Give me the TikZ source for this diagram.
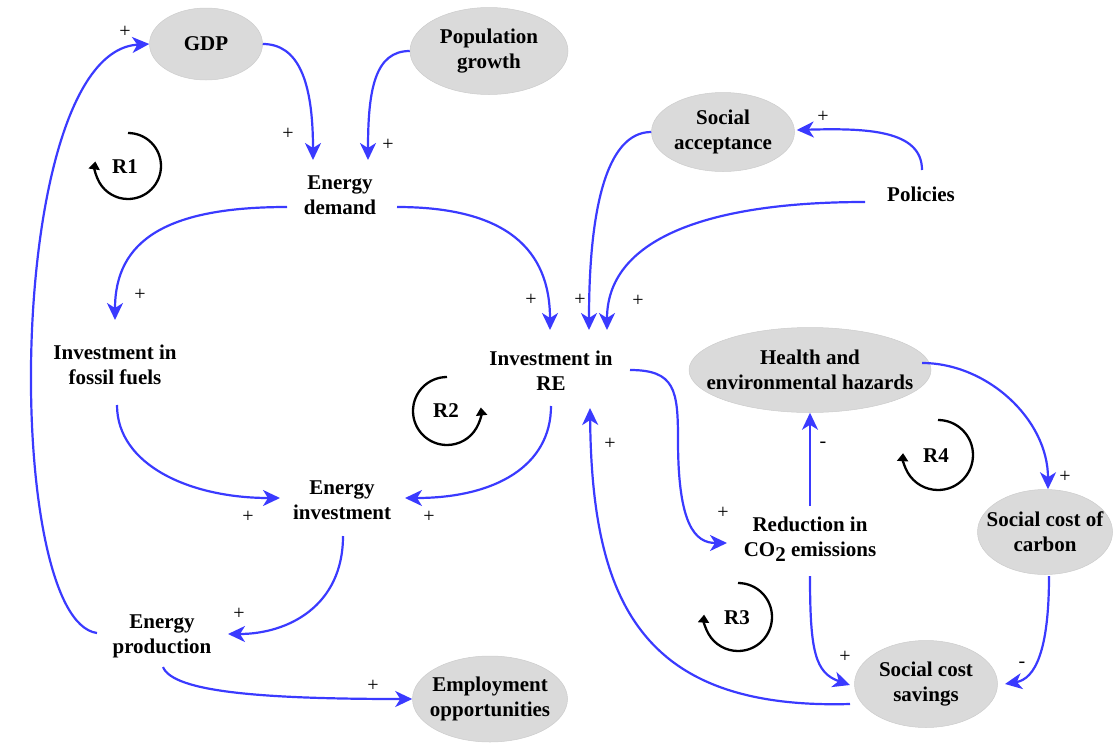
\documentclass[tikz,border=0pt]{standalone}
\usepackage{fontspec}
\setmainfont{Liberation Serif}
\usetikzlibrary{arrows.meta,shapes.geometric}
\definecolor{linkblue}{RGB}{58,58,255}
\definecolor{bubblefill}{RGB}{218,218,218}
\definecolor{bubbleedge}{RGB}{204,204,204}

\begin{document}
\begin{tikzpicture}[x=1pt,y=-1pt,
  bubble/.style={ellipse, fill=bubblefill, draw=bubbleedge, line width=0.5pt, inner sep=0pt},
  txt/.style={font=\fontsize{21}{25}\selectfont\bfseries, align=center, inner sep=0pt},
  sign/.style={font=\fontsize{20}{22}\selectfont, inner sep=0pt},
  link/.style={draw=linkblue, line width=2.2pt, -{Stealth[length=17pt,width=16pt,inset=5pt]}},
  loopmark/.style={draw=black, line width=2.3pt, -{Triangle[length=8pt,width=11pt]}},
  looptag/.style={font=\fontsize{21}{24}\selectfont\bfseries, inner sep=0pt},
]
\useasboundingbox (0,0) rectangle (1114,742);

% shaded variables
\node[bubble, minimum width=113, minimum height=72] (gdp) at (206,44) {};
\node[txt] (gdpt) at (gdp.center) {GDP};
\node[bubble, minimum width=158, minimum height=87] (pop) at (489,51) {};
\node[txt] (popt) at (pop.center) {Population\\growth};
\node[bubble, minimum width=143, minimum height=79] (soc) at (723,132) {};
\node[txt] (soct) at (soc.center) {Social\\acceptance};
\node[bubble, minimum width=242, minimum height=85] (hea) at (810,370) {};
\node[txt] (heat) at (hea.center) {Health and\\environmental hazards};
\node[bubble, minimum width=135, minimum height=85] (scc) at (1045,532) {};
\node[txt] (scct) at (scc.center) {Social cost of\\carbon};
\node[bubble, minimum width=143, minimum height=87] (scs) at (926,684) {};
\node[txt] (scst) at (scs.center) {Social cost\\savings};
\node[bubble, minimum width=155, minimum height=86] (emp) at (490,699) {};
\node[txt] (empt) at (emp.center) {Employment\\opportunities};

% plain variables
\node[txt] (edem) at (340,195) {Energy\\demand};
\node[txt] (iff) at (115,365) {Investment in\\fossil fuels};
\node[txt] (ire) at (551,371) {Investment in\\RE};
\node[txt] (einv) at (342,500) {Energy\\investment};
\node[txt] (eprod) at (162,636) {Energy\\production};
\node[txt] (red) at (810,539) {Reduction in\\CO\raisebox{-5pt}{2} emissions};
\node[txt] (pol) at (921,194) {Policies};

% causal links
\draw[link] (gdp.east) .. controls +(35,0) and +(0,-80) .. ([shift={(-27,-35)}]edem.center);
\draw[link] (pop.west) .. controls +(-35,0) and +(0,-70) .. ([shift={(28,-35)}]edem.center);
\draw[link] ([shift={(-53,12)}]edem.center) .. controls +(-120,0) and +(0,-80) .. ([shift={(0,-45)}]iff.center);
\draw[link] ([shift={(57,12)}]edem.center) .. controls +(110,0) and +(0,-80) .. ([shift={(-1,-41)}]ire.center);
\draw[link] (soc.west) .. controls +(-45,0) and +(0,-120) .. ([shift={(38,-41)}]ire.center);
\draw[link] ([shift={(-56,8)}]pol.center) .. controls +(-160,0) and +(0,-90) .. ([shift={(56,-41)}]ire.center);
\draw[link] ([shift={(1,-24)}]pol.center) .. controls +(0,-40) and +(70,-2) .. ([shift={(2,-2)}]soc.east);
\draw[link] ([shift={(2,40)}]iff.center) .. controls +(0,60) and +(-90,0) .. ([shift={(-62,-2)}]einv.center);
\draw[link] ([shift={(0,35)}]ire.center) .. controls +(0,60) and +(90,0) .. ([shift={(63,-2)}]einv.center);
\draw[link] ([shift={(1,36)}]einv.center) .. controls +(0,70) and +(60,0) .. ([shift={(66,-2)}]eprod.center);
\draw[link] ([shift={(-65,-3)}]eprod.center) .. controls +(-95,-13) and +(-145,8) .. (gdp.west);
\draw[link] ([shift={(1,31)}]eprod.center) .. controls +(10,25) and +(-150,0) .. (emp.west);
\draw[link] ([shift={(79,-1)}]ire.center) .. controls +(45,0) and +(0,-50) .. (678,440)
  .. controls +(0,85) and +(-32,0) .. ([shift={(-83,4)}]red.center);
\draw[link] ([shift={(0,-33)}]red.center) -- (hea.south);
\draw[link] ([shift={(0,37)}]red.center) .. controls +(0,75) and +(-35,-12) .. ([shift={(-76,1)}]scs.center);
\draw[link] ([shift={(-76,20)}]scs.center) .. controls +(-210,6) and +(2,192) .. ([shift={(39,37)}]ire.center);
\draw[link] ([shift={(112,-7)}]hea.center) .. controls +(65,0) and +(0,-70) .. ([shift={(3,0)}]scc.north);
\draw[link] ([shift={(4,44)}]scc.center) .. controls +(0,75) and +(30,-5) .. ([shift={(79,0)}]scs.center);

% link polarities
\node[sign] (s1) at (125,32) {+};
\node[sign] (s2) at (288,134) {+};
\node[sign] (s3) at (388,145) {+};
\node[sign] (s4) at (140,295) {+};
\node[sign] (s5) at (531,300) {+};
\node[sign] (s6) at (580,300) {+};
\node[sign] (s7) at (638,301) {+};
\node[sign] (s8) at (823,117) {+};
\node[sign] (s9) at (248,517) {+};
\node[sign] (s10) at (429,517) {+};
\node[sign] (s11) at (239,614) {+};
\node[sign] (s12) at (373,686) {+};
\node[sign] (s13) at (723,513) {+};
\node[sign] (s14) at (823,445) {-};
\node[sign] (s15) at (845,657) {+};
\node[sign] (s16) at (610,444) {+};
\node[sign] (s17) at (1065,477) {+};
\node[sign] (s18) at (1022,665) {-};

% reinforcing loop markers
\draw[loopmark] (128,133) arc[start angle=-90, end angle=188, radius=33];
\node[looptag] (r1) at (125,167) {R1};
\draw[loopmark] (447,377) arc[start angle=-90, end angle=-366, radius=34];
\node[looptag] (r2) at (446,411) {R2};
\draw[loopmark] (738,583) arc[start angle=-90, end angle=184, radius=34];
\node[looptag] (r3) at (737,618) {R3};
\draw[loopmark] (938,420) arc[start angle=-90, end angle=183, radius=35];
\node[looptag] (r4) at (936,456) {R4};
\end{tikzpicture}
\end{document}
